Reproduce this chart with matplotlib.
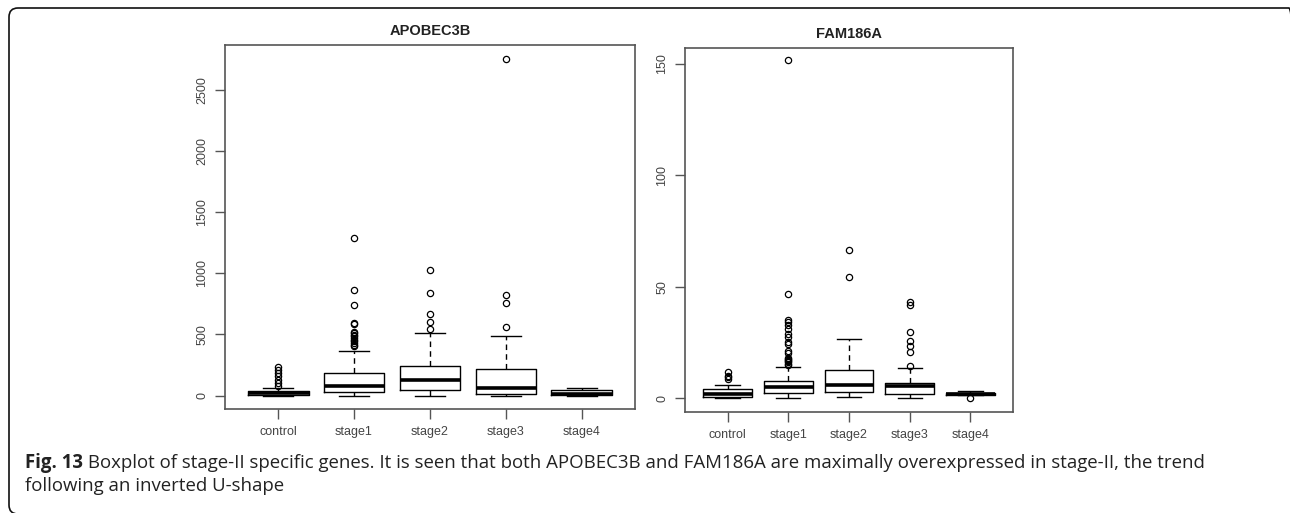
import matplotlib
matplotlib.use("Agg")
import matplotlib.pyplot as plt
from matplotlib.patches import FancyBboxPatch
from matplotlib.transforms import IdentityTransform

groups = ["control", "stage1", "stage2", "stage3", "stage4"]

# APOBEC3B box statistics
apo_q1 = [3, 30, 43, 14, 2]
apo_med = [20, 82, 128, 62, 10]
apo_q3 = [35, 185, 239, 217, 48]
apo_lo = [0, 0, 0, 0, 0]
apo_hi = [62, 364, 511, 489, 60]
apo_fliers = [
    [76, 103, 130, 160, 185, 212, 233],
    [402, 418, 430, 445, 457, 470, 484, 497, 510, 524, 587, 598, 745, 864, 1293],
    [546, 606, 668, 837, 1027],
    [565, 761, 820, 2753],
    [],
]

# FAM186A box statistics
fam_q1 = [0.4, 2.4, 2.7, 1.9, 1.5]
fam_med = [1.9, 4.9, 6.0, 5.4, 2.0]
fam_q3 = [3.9, 7.5, 12.7, 7.0, 2.5]
fam_lo = [0, 0, 0.4, 0, 1.5]
fam_hi = [5.7, 13.9, 26.5, 13.4, 3.4]
fam_fliers = [
    [8.6, 9.3, 10.1, 11.6],
    [15.0, 15.5, 16.0, 16.5, 17.0, 17.5, 18.0, 20.1, 21.3, 24.3, 25.0,
     27.3, 28.8, 31.0, 33.0, 34.0, 35.0, 46.7, 151.5],
    [54.3, 66.5],
    [14.6, 20.6, 23.6, 25.8, 29.8, 41.9, 43.2],
    [0.0],
]

caption_bold = "Fig. 13"
caption_rest = (" Boxplot of stage-II specific genes. It is seen that both APOBEC3B and "
                "FAM186A are maximally overexpressed in stage-II, the trend")
caption_line2 = "following an inverted U-shape"

frame_col = "#555555"
tick_col = "#444444"


def make_stats(q1, med, q3, lo, hi, fliers):
    stats = []
    for i in range(len(groups)):
        stats.append({"q1": q1[i], "med": med[i], "q3": q3[i],
                      "whislo": lo[i], "whishi": hi[i], "fliers": fliers[i]})
    return stats


def draw_box(ax, stats, title, ylim, yticks):
    ax.bxp(stats, positions=range(1, 6), widths=0.8, showfliers=True,
           boxprops=dict(color="black", linewidth=1.0),
           medianprops=dict(color="black", linewidth=2.6, solid_capstyle="butt"),
           whiskerprops=dict(color="black", linewidth=1.0, linestyle=(0, (4, 3))),
           capprops=dict(color="black", linewidth=1.0),
           capwidths=0.4,
           flierprops=dict(marker="o", markerfacecolor="none", markeredgecolor="black",
                           markersize=4.5, markeredgewidth=0.9))
    ax.set_xlim(0.3, 5.7)
    ax.set_ylim(*ylim)
    ax.set_yticks(yticks)
    ax.set_yticklabels([str(t) for t in yticks], rotation=90, va="center")
    ax.set_xticks(range(1, 6))
    ax.set_xticklabels(groups)
    ax.tick_params(axis="both", length=7, width=1.0, color=frame_col,
                   labelcolor=tick_col, labelsize=9)
    ax.tick_params(axis="x", pad=5)
    ax.tick_params(axis="y", pad=5)
    for sp in ax.spines.values():
        sp.set_color(frame_col)
        sp.set_linewidth(1.2)
    ax.set_title(title, fontsize=10.5, fontweight="bold", pad=7, color="#222222")


plt.rcParams["font.family"] = ["Liberation Sans", "DejaVu Sans"]

fig = plt.figure(figsize=(12.9, 5.13), dpi=100)

ax1 = fig.add_axes([225 / 1290, 1 - 409 / 513, 410 / 1290, 364 / 513])
draw_box(ax1, make_stats(apo_q1, apo_med, apo_q3, apo_lo, apo_hi, apo_fliers),
         "APOBEC3B", (-110, 2870), [0, 500, 1000, 1500, 2000, 2500])

ax2 = fig.add_axes([685 / 1290, 1 - 412 / 513, 328 / 1290, 364 / 513])
draw_box(ax2, make_stats(fam_q1, fam_med, fam_q3, fam_lo, fam_hi, fam_fliers),
         "FAM186A", (-6.2, 157), [0, 50, 100, 150])

# outer rounded frame (right and bottom run off the page)
frame = FancyBboxPatch((9, -1), 1289, 506, boxstyle="round,pad=0,rounding_size=9",
                       transform=IdentityTransform(), fill=False,
                       edgecolor="#111111", linewidth=1.2)
fig.add_artist(frame)

# caption
cap_size = 13.4
t1 = fig.text(25 / 1290, 50 / 513, caption_bold, fontsize=cap_size, fontweight="bold",
              family="Open Sans", color="#222222", va="center")
fig.canvas.draw()
bb = t1.get_window_extent()
fig.text(bb.x1 / 1290, 50 / 513, caption_rest, fontsize=cap_size, family="Open Sans",
         color="#222222", va="center")
fig.text(25 / 1290, 27 / 513, caption_line2, fontsize=cap_size, family="Open Sans",
         color="#222222", va="center")

fig.savefig("out.png", dpi=100)
